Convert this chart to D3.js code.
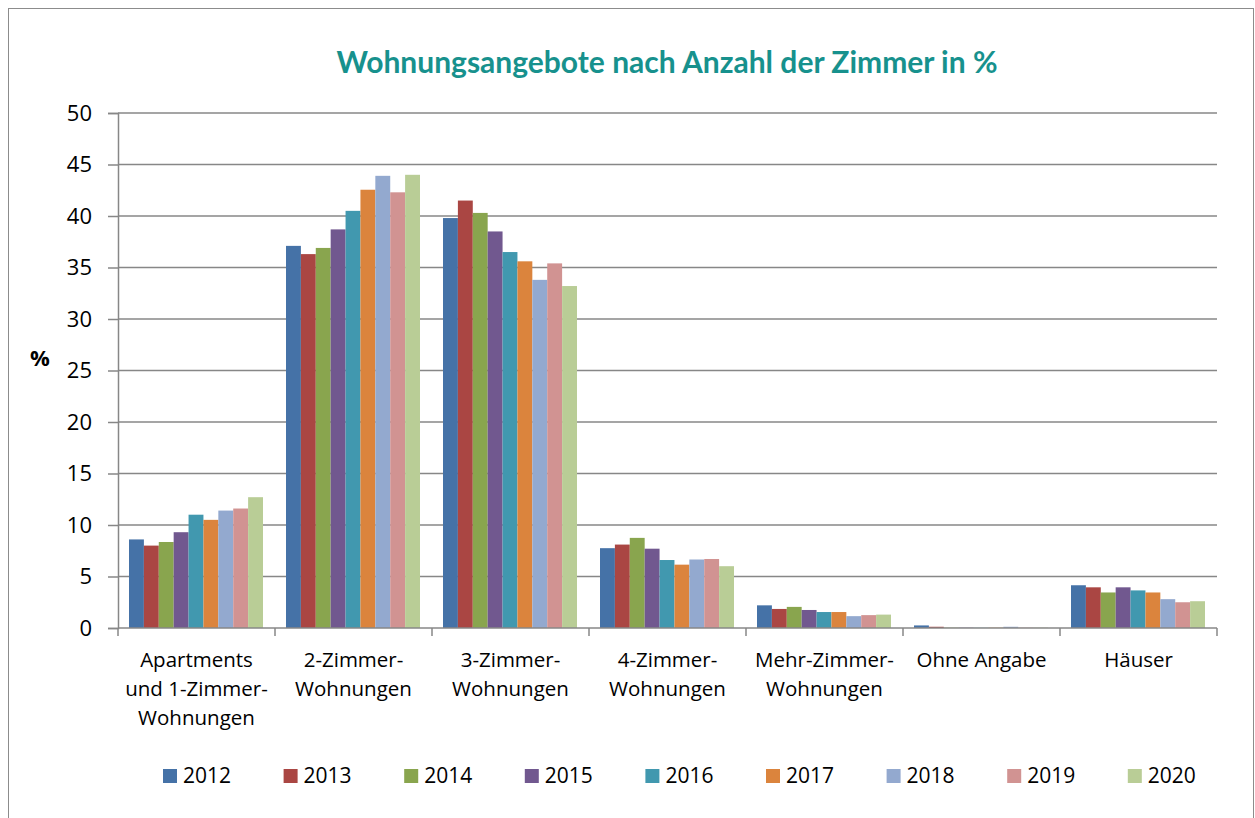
<!DOCTYPE html>
<html>
<head>
<meta charset="utf-8">
<script src="https://cdn.jsdelivr.net/npm/d3@7/dist/d3.min.js"></script>
<style>
  body { margin: 0; background: #fff; }
  svg text { font-family: "Open Sans", "DejaVu Sans", sans-serif; }
</style>
</head>
<body>
<div id="chart"></div>
<script>

var categories = [
  ["Apartments", "und 1-Zimmer-", "Wohnungen"],
  ["2-Zimmer-", "Wohnungen"],
  ["3-Zimmer-", "Wohnungen"],
  ["4-Zimmer-", "Wohnungen"],
  ["Mehr-Zimmer-", "Wohnungen"],
  ["Ohne Angabe"],
  ["Häuser"]
];
var years = ["2012", "2013", "2014", "2015", "2016", "2017", "2018", "2019", "2020"];
var colors = ["#4572A7", "#AA4643", "#89A54E", "#71588F", "#4198AF", "#DB843D", "#93A9CF", "#D19392", "#B9CD96"];

// one row per category, one value per year
var values = [
  [8.6, 8.0, 8.35, 9.3, 11.0, 10.5, 11.4, 11.6, 12.7],
  [37.1, 36.3, 36.9, 38.7, 40.5, 42.55, 43.9, 42.3, 44.0],
  [39.8, 41.5, 40.3, 38.5, 36.5, 35.6, 33.8, 35.4, 33.2],
  [7.75, 8.1, 8.75, 7.7, 6.6, 6.15, 6.65, 6.7, 6.0],
  [2.2, 1.85, 2.05, 1.75, 1.55, 1.55, 1.15, 1.25, 1.3],
  [0.25, 0.12, 0.03, 0.03, 0.02, 0.03, 0.12, 0.03, 0.03],
  [4.15, 3.95, 3.45, 3.95, 3.65, 3.45, 2.8, 2.5, 2.6]
];
var yTicks = [0, 5, 10, 15, 20, 25, 30, 35, 40, 45, 50];

var width = 1255, height = 818;
var plot = { left: 118, right: 1217, top: 113, bottom: 628 };

var svg = d3.select("#chart").append("svg")
    .attr("width", width)
    .attr("height", height);

// outer frame
svg.append("rect")
    .attr("x", 8.5).attr("y", 8.5)
    .attr("width", 1245).attr("height", 830)
    .attr("fill", "#fff")
    .attr("stroke", "#8c8c8c")
    .attr("stroke-width", 1);

svg.append("text")
    .attr("x", 667).attr("y", 73)
    .attr("text-anchor", "middle")
    .style("font-family", "Lato, 'Open Sans', sans-serif")
    .style("font-weight", "bold")
    .style("font-size", "30px")
    .attr("fill", "#17918d")
    .text("Wohnungsangebote nach Anzahl der Zimmer in %");

var y = d3.scaleLinear().domain([0, 50]).range([plot.bottom, plot.top]);
var x0 = d3.scaleBand().domain(d3.range(categories.length)).range([plot.left, plot.right]);
var x1 = d3.scaleBand().domain(years).range([11, x0.bandwidth() - 12]);

// gridlines
svg.append("g").selectAll("line")
    .data(yTicks.filter(function(d) { return d > 0; }))
    .join("line")
    .attr("x1", plot.left).attr("x2", plot.right)
    .attr("y1", function(d) { return y(d); })
    .attr("y2", function(d) { return y(d); })
    .attr("stroke", "#878787")
    .attr("stroke-width", 1.5);

// bars
var groups = svg.append("g").selectAll("g")
    .data(values)
    .join("g")
    .attr("transform", function(d, i) { return "translate(" + x0(i) + ",0)"; });

groups.selectAll("rect")
    .data(function(d) { return d.map(function(v, j) { return { year: years[j], value: v, color: colors[j] }; }); })
    .join("rect")
    .attr("x", function(d) { return x1(d.year); })
    .attr("width", x1.bandwidth())
    .attr("y", function(d) { return y(d.value); })
    .attr("height", function(d) { return y(0) - y(d.value); })
    .attr("fill", function(d) { return d.color; });

// y axis
var yAxis = svg.append("g")
    .attr("transform", "translate(" + plot.left + ",0)")
    .call(d3.axisLeft(y).tickValues(yTicks).tickSize(10).tickPadding(16));
yAxis.select(".domain").attr("stroke", "#878787").attr("stroke-width", 1.5);
yAxis.selectAll(".tick line").attr("stroke", "#878787").attr("stroke-width", 1.5);
yAxis.selectAll(".tick text")
    .style("font-size", "22px")
    .style("font-family", "'Open Sans', sans-serif")
    .attr("fill", "#000");

// x axis
var xAxis = svg.append("g")
    .attr("transform", "translate(0," + plot.bottom + ")");
xAxis.append("line")
    .attr("x1", plot.left).attr("x2", plot.right)
    .attr("stroke", "#878787").attr("stroke-width", 1.5);
xAxis.selectAll(".xt")
    .data(d3.range(categories.length + 1))
    .join("line")
    .attr("class", "xt")
    .attr("x1", function(i) { return plot.left + i * x0.step(); })
    .attr("x2", function(i) { return plot.left + i * x0.step(); })
    .attr("y1", 0).attr("y2", 8)
    .attr("stroke", "#878787").attr("stroke-width", 1.5);

xAxis.selectAll(".xl")
    .data(categories)
    .join("text")
    .attr("class", "xl")
    .attr("text-anchor", "middle")
    .style("font-size", "20.5px")
    .attr("fill", "#000")
    .each(function(lines, i) {
      var t = d3.select(this);
      lines.forEach(function(s, k) {
        t.append("tspan")
          .attr("x", x0(i) + x0.bandwidth() / 2)
          .attr("y", 39 + k * 29)
          .text(s);
      });
    });

// y label
svg.append("text")
    .attr("x", 40).attr("y", 366)
    .attr("text-anchor", "middle")
    .style("font-size", "22px")
    .style("font-weight", "bold")
    .text("%");

// legend
var legend = svg.append("g").selectAll("g")
    .data(years)
    .join("g")
    .attr("transform", function(d, i) { return "translate(" + (163 + i * 120.6) + ",769)"; });
legend.append("rect")
    .attr("width", 14).attr("height", 14)
    .attr("fill", function(d, i) { return colors[i]; });
legend.append("text")
    .attr("x", 20).attr("y", 14)
    .style("font-size", "21px")
    .attr("fill", "#000")
    .text(function(d) { return d; });

</script>
</body>
</html>
